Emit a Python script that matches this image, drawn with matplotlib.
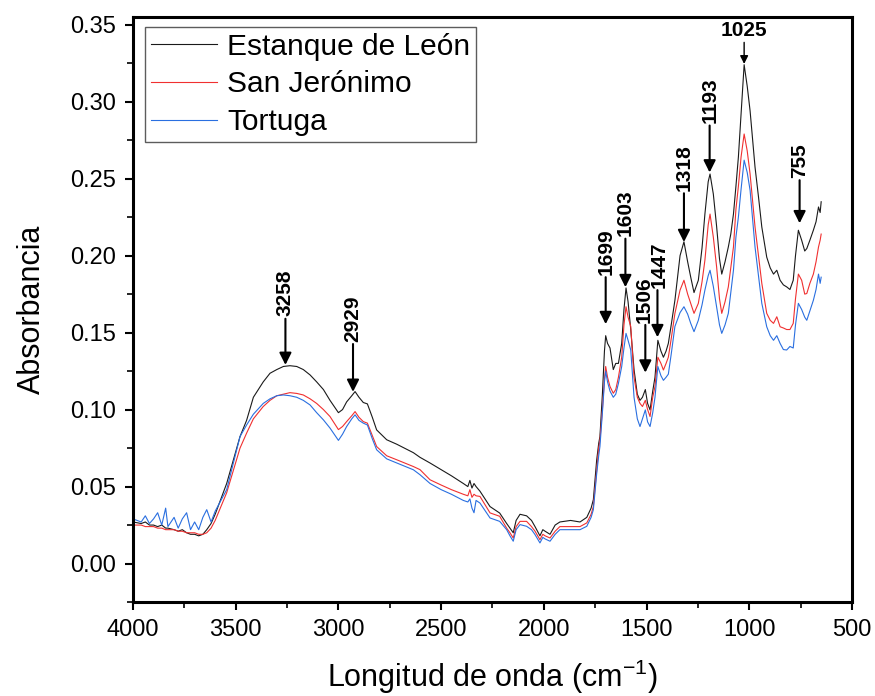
import matplotlib
matplotlib.use("Agg")
import matplotlib.pyplot as plt
from matplotlib.ticker import MultipleLocator
from matplotlib.transforms import offset_copy

plt.rcParams["font.family"] = ["Liberation Sans", "DejaVu Sans"]
plt.rcParams["mathtext.default"] = "regular"

# FTIR spectra: wavenumber (cm-1) and absorbance of each sample
wavenumber = [
    4000, 3960, 3940, 3920, 3900, 3880, 3860, 3841, 3830, 3800, 3780, 3760,
    3739, 3720, 3700, 3680, 3660, 3641, 3620, 3600, 3544, 3479, 3447, 3414,
    3366, 3333, 3300, 3268, 3236, 3203, 3171, 3138, 3106, 3073, 3041, 3000,
    2980, 2960, 2935, 2919, 2900, 2879, 2859, 2835, 2814, 2765, 2716, 2635,
    2603, 2554, 2500, 2450, 2392, 2370, 2360, 2350, 2340, 2330, 2311, 2262,
    2215, 2181, 2165, 2149, 2135, 2116, 2084, 2060, 2043, 2019, 2005, 1994,
    1970, 1945, 1922, 1870, 1824, 1791, 1770, 1759, 1743, 1733, 1727, 1715,
    1705, 1699, 1690, 1678, 1662, 1650, 1637, 1621, 1610, 1600, 1590, 1577,
    1561, 1545, 1532, 1520, 1506, 1495, 1483, 1470, 1459, 1445, 1430, 1418,
    1405, 1394, 1380, 1362, 1337, 1318, 1300, 1285, 1269, 1248, 1230, 1216,
    1200, 1191, 1175, 1159, 1145, 1134, 1118, 1102, 1090, 1077, 1065, 1053,
    1040, 1025, 1010, 996, 984, 972, 955, 939, 915, 898, 882, 866,
    850, 834, 818, 802, 786, 775, 761, 745, 730, 720, 705, 688,
    675, 663, 655, 650,
]

estanque_leon = [
    0.027, 0.026, 0.027, 0.025, 0.025, 0.024, 0.025, 0.023, 0.023, 0.022, 0.021, 0.022,
    0.020, 0.019, 0.019, 0.018, 0.019, 0.022, 0.026, 0.032, 0.052, 0.0825, 0.093, 0.108,
    0.118, 0.1236, 0.126, 0.128, 0.1285, 0.128, 0.126, 0.1225, 0.118, 0.113, 0.106, 0.098,
    0.100, 0.105, 0.109, 0.1117, 0.108, 0.1046, 0.1037, 0.095, 0.0868, 0.0804, 0.0775, 0.072,
    0.069, 0.0653, 0.061, 0.057, 0.052, 0.050, 0.054, 0.049, 0.052, 0.050, 0.047, 0.037,
    0.0328, 0.026, 0.023, 0.020, 0.028, 0.032, 0.031, 0.028, 0.024, 0.018, 0.022, 0.021,
    0.019, 0.025, 0.027, 0.028, 0.027, 0.030, 0.036, 0.0415, 0.067, 0.078, 0.0825, 0.110,
    0.138, 0.148, 0.143, 0.140, 0.126, 0.130, 0.130, 0.143, 0.165, 0.179, 0.170, 0.152,
    0.126, 0.110, 0.106, 0.108, 0.113, 0.104, 0.0998, 0.112, 0.121, 0.145, 0.138, 0.134,
    0.138, 0.143, 0.155, 0.171, 0.200, 0.209, 0.196, 0.186, 0.176, 0.184, 0.205, 0.227,
    0.248, 0.253, 0.240, 0.219, 0.198, 0.188, 0.196, 0.2056, 0.214, 0.227, 0.245, 0.264,
    0.292, 0.324, 0.310, 0.294, 0.276, 0.2575, 0.238, 0.2186, 0.199, 0.192, 0.188, 0.1905,
    0.184, 0.181, 0.1797, 0.178, 0.184, 0.200, 0.2165, 0.210, 0.203, 0.2046, 0.210, 0.2165,
    0.222, 0.2316, 0.228, 0.235,
]

san_jeronimo = [
    0.025, 0.025, 0.024, 0.024, 0.024, 0.023, 0.023, 0.022, 0.022, 0.022, 0.021, 0.021,
    0.020, 0.020, 0.020, 0.019, 0.019, 0.020, 0.023, 0.028, 0.046, 0.075, 0.0847, 0.094,
    0.102, 0.106, 0.109, 0.110, 0.111, 0.1105, 0.1095, 0.107, 0.104, 0.100, 0.0955, 0.087,
    0.089, 0.0922, 0.096, 0.0987, 0.095, 0.0922, 0.0912, 0.083, 0.076, 0.070, 0.0674, 0.063,
    0.061, 0.0544, 0.051, 0.048, 0.045, 0.044, 0.048, 0.043, 0.045, 0.044, 0.0436, 0.0329,
    0.0307, 0.023, 0.020, 0.0166, 0.024, 0.0274, 0.0274, 0.024, 0.021, 0.0155, 0.019, 0.018,
    0.0166, 0.021, 0.024, 0.024, 0.024, 0.0264, 0.032, 0.037, 0.060, 0.075, 0.080, 0.100,
    0.120, 0.128, 0.121, 0.115, 0.1106, 0.113, 0.121, 0.134, 0.155, 0.1668, 0.160, 0.154,
    0.121, 0.108, 0.104, 0.102, 0.106, 0.100, 0.0955, 0.108, 0.115, 0.134, 0.130, 0.1257,
    0.130, 0.134, 0.146, 0.1625, 0.1776, 0.184, 0.175, 0.169, 0.1625, 0.169, 0.183, 0.197,
    0.220, 0.227, 0.212, 0.1927, 0.172, 0.1625, 0.170, 0.1797, 0.192, 0.2056, 0.230, 0.245,
    0.264, 0.279, 0.268, 0.253, 0.236, 0.2186, 0.200, 0.182, 0.1625, 0.158, 0.156, 0.1603,
    0.1538, 0.153, 0.152, 0.152, 0.156, 0.172, 0.188, 0.184, 0.175, 0.1754, 0.182, 0.188,
    0.196, 0.2056, 0.210, 0.214,
]

tortuga = [
    0.029, 0.027, 0.031, 0.026, 0.029, 0.033, 0.025, 0.036, 0.024, 0.030, 0.023, 0.029,
    0.033, 0.022, 0.027, 0.022, 0.030, 0.035, 0.027, 0.034, 0.048, 0.0825, 0.090, 0.097,
    0.104, 0.107, 0.109, 0.1095, 0.109, 0.108, 0.106, 0.103, 0.098, 0.0933, 0.088, 0.080,
    0.084, 0.089, 0.094, 0.0966, 0.093, 0.0912, 0.090, 0.081, 0.0739, 0.068, 0.0653, 0.0609,
    0.0577, 0.052, 0.048, 0.045, 0.041, 0.040, 0.042, 0.036, 0.033, 0.041, 0.0393, 0.0296,
    0.0274, 0.022, 0.018, 0.0145, 0.022, 0.0253, 0.0242, 0.022, 0.0188, 0.0134, 0.017, 0.016,
    0.0145, 0.019, 0.022, 0.022, 0.022, 0.0242, 0.030, 0.035, 0.058, 0.070, 0.076, 0.098,
    0.118, 0.125, 0.118, 0.112, 0.108, 0.110, 0.117, 0.128, 0.140, 0.1495, 0.145, 0.1387,
    0.108, 0.094, 0.089, 0.094, 0.0998, 0.092, 0.089, 0.098, 0.108, 0.128, 0.122, 0.119,
    0.121, 0.123, 0.136, 0.154, 0.163, 0.1668, 0.162, 0.156, 0.1506, 0.158, 0.168, 0.1776,
    0.187, 0.1905, 0.180, 0.1668, 0.155, 0.1495, 0.155, 0.1625, 0.176, 0.1905, 0.212, 0.225,
    0.243, 0.262, 0.254, 0.2424, 0.224, 0.2056, 0.187, 0.169, 0.1538, 0.148, 0.145, 0.148,
    0.143, 0.139, 0.1387, 0.141, 0.140, 0.155, 0.169, 0.165, 0.160, 0.158, 0.164, 0.171,
    0.178, 0.188, 0.182, 0.186,
]

series_names = ["Estanque de León", "San Jerónimo", "Tortuga"]
series_colors = ["#1a1a1a", "#f03030", "#2a6fe0"]

# Band assignments: (wavenumber, arrow tail, arrow tip)
band_labels = [3258, 2929, 1699, 1603, 1506, 1447, 1318, 1193, 755]
band_tail = [0.159, 0.1426, 0.186, 0.211, 0.155, 0.1776, 0.2405, 0.2845, 0.249]
band_tip = [0.129, 0.1115, 0.1555, 0.1795, 0.124, 0.147, 0.2088, 0.254, 0.221]
main_band = 1025
main_band_tail = 0.3385
main_band_tip = 0.3245

fig = plt.figure(figsize=(8.75, 6.96), dpi=100)
ax = fig.add_axes([0.152, 0.135, 0.8217, 0.8406])

for values, name, color in zip([estanque_leon, san_jeronimo, tortuga],
                               series_names, series_colors):
    ax.plot(wavenumber, values, color=color, lw=0.8, label=name)

ax.set_xlim(4000, 500)
ax.set_ylim(-0.025, 0.355)
ax.xaxis.set_major_locator(MultipleLocator(500))
ax.xaxis.set_minor_locator(MultipleLocator(250))
ax.yaxis.set_major_locator(MultipleLocator(0.05))
ax.yaxis.set_minor_locator(MultipleLocator(0.025))
ax.yaxis.set_major_formatter(matplotlib.ticker.FormatStrFormatter("%.2f"))

for spine in ax.spines.values():
    spine.set_linewidth(2.2)
ax.tick_params(which="major", direction="out", length=6, width=1.5,
               labelsize=17, pad=6)
ax.tick_params(which="minor", direction="out", length=4, width=1.2)

ax.set_xlabel("Longitud de onda (cm$^{-1}$)", fontsize=22, labelpad=12)
ax.set_ylabel("Absorbancia", fontsize=22, labelpad=17)

arrow_style = dict(arrowstyle="-|>,head_length=0.4,head_width=0.2",
                   color="black", lw=1.5, shrinkA=0, shrinkB=0,
                   mutation_scale=18)
# small sideways nudges (points) keep neighbouring rotated labels apart
label_nudge = {1506: -1.0, 1447: 1.5}
for wn, tail, tip in zip(band_labels, band_tail, band_tip):
    ax.annotate("", xy=(wn, tip), xytext=(wn, tail), arrowprops=arrow_style)
    tr = offset_copy(ax.transData, fig=fig, x=label_nudge.get(wn, 0.0), y=0,
                     units="points")
    ax.text(wn, tail + 0.0015, str(wn), rotation=90, ha="center", va="bottom",
            fontsize=15, fontweight="bold", transform=tr)

ax.annotate("", xy=(main_band, main_band_tip), xytext=(main_band, main_band_tail),
            arrowprops=dict(arrowstyle="-|>,head_length=0.4,head_width=0.2",
                            color="black", lw=1.0, shrinkA=0, shrinkB=0,
                            mutation_scale=12))
ax.text(main_band, main_band_tail + 0.0015, str(main_band), ha="center",
        va="bottom", fontsize=15, fontweight="bold")

leg = ax.legend(loc="upper left", bbox_to_anchor=(0.0167, 0.983),
                borderaxespad=0, fontsize=21.5, frameon=True, fancybox=False,
                handlelength=2.2, handletextpad=0.35, labelspacing=0.32,
                borderpad=0.2)
leg.get_frame().set_edgecolor("#333333")
leg.get_frame().set_linewidth(1.0)

fig.savefig("out.png", dpi=100)
